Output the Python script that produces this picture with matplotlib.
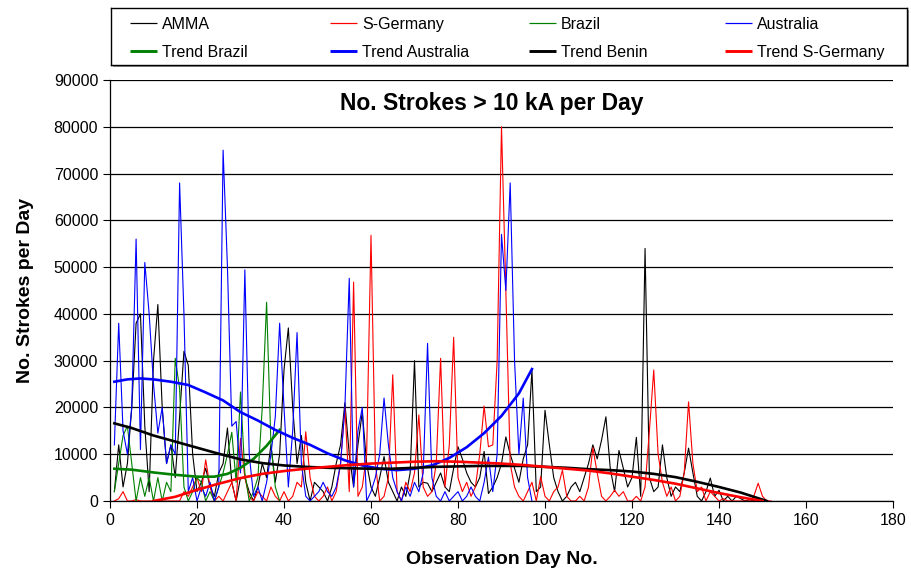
import matplotlib
matplotlib.use("Agg")
import matplotlib.pyplot as plt
from matplotlib.patches import Rectangle
import numpy as np

plt.rcParams["font.family"] = ["Liberation Sans", "DejaVu Sans"]

# daily counts of strokes > 10 kA, in thousands
amma_k = [
    2, 12, 3, 8, 20, 38, 40, 16, 2, 30,
    42, 20, 8, 12, 5, 18, 32, 29, 10, 2,
    4, 7, 3, 1, 6, 8, 15.6, 4, 0, 5,
    5, 2, 0, 3, 8, 5, 12, 4, 10, 28,
    37, 20, 8, 14, 4, 0, 4, 3, 2, 0,
    3, 8, 12, 21, 10, 3, 12, 19, 8, 3,
    1, 5, 9.5, 4, 2, 0, 3, 1, 6, 30,
    3, 4, 3.8, 2, 4, 6, 3, 2, 7, 11.6,
    9, 6, 4, 3, 5, 10.6, 1.6, 3, 5, 8,
    13.7, 10, 7, 4, 9, 12, 28, 2, 3, 19.4,
    12, 5, 2, 0, 1, 3, 4, 2, 5, 8,
    12, 9, 13, 18, 7, 2, 10.8, 7, 3, 5,
    13.6, 1, 54, 5, 2, 3, 12, 5, 1, 3,
    2, 6, 11.3, 6, 1, 0, 2, 4.9, 1, 2.3,
    0, 1, 0, 1, 0.5, 0, 0.3, 0, 0, 0,
    0,
]
germany_k = [
    0, 0.5, 2, 0, 0, 0.3, 0, 0, 0, 0,
    0, 0, 0, 0, 0, 0, 2, 1, 3, 5,
    2, 8.8, 3, 0, 1, 0, 2, 4, 0, 13.4,
    5, 1, 0, 2, 1, 0, 3, 1, 0, 2,
    0, 1, 4, 3, 14.8, 5, 1, 0, 1, 3,
    0, 2, 8, 20, 2, 46.8, 1, 3, 10, 56.8,
    8, 0, 1, 5, 27, 2, 0, 4, 2, 6,
    18.4, 3, 1, 2, 8, 30.5, 3, 12, 35, 5,
    2, 4, 1, 3, 10, 20.3, 11.6, 12, 30, 80,
    45, 8, 3, 1, 0, 2, 4, 0, 5.2, 1,
    0, 2, 3, 6.6, 1, 0, 0, 1, 0, 3,
    11.4, 6, 1, 0, 1, 2.3, 1, 2, 0, 0,
    1, 0, 3, 15, 28, 10, 4, 1, 3, 0,
    1, 6, 21.2, 8, 2, 3, 0, 2, 1, 0,
    0.5, 0, 0, 0, 0, 0, 0, 1, 3.8, 1,
    0, 0,
]
brazil_k = [
    2, 8, 14, 16, 8, 0, 5, 1, 5, 0,
    5, 0, 4, 2, 30.5, 24, 3, 0, 2, 5,
    4, 0, 2, 0, 3, 6, 10, 14.7, 4, 23.3,
    6, 0, 2, 5, 20, 42.5, 12, 3, 0,
]
australia_k = [
    12, 38, 15, 10, 20, 56, 11, 51, 40, 25,
    14.5, 20, 8, 12, 10, 68, 40, 2, 5, 0,
    3, 1, 4, 0, 3, 75, 50, 16, 17, 6,
    49.4, 10, 1, 3, 0, 4, 10, 18, 38, 20,
    3, 15, 36, 8, 1, 0, 1, 2, 4, 2,
    1, 3, 8, 20, 47.6, 3, 15, 20, 0, 2,
    5, 10, 22, 12, 5, 2, 0, 3, 1, 4,
    2, 6, 33.7, 5, 1, 0, 2, 0, 1, 2,
    0, 1, 3, 1, 0, 4, 9.4, 2, 10, 57,
    45, 68, 30, 10, 22, 5, 0,
]

# trend curves, sampled by observation day
trend_brazil_days = [1, 5, 10, 15, 20, 24, 27, 30, 33, 36, 39]
trend_brazil = [6900, 6700, 6100, 5600, 5200, 5200, 5800, 7100, 9000, 11800, 15200]

trend_australia_days = [1, 4, 7, 10, 14, 18, 22, 26, 30, 34, 38, 42, 46, 50,
                        54, 58, 62, 66, 70, 74, 78, 82, 86, 90, 94, 97]
trend_australia = [25500, 26000, 26200, 26000, 25500, 24800, 23200, 21500, 19000,
                   17200, 15200, 13500, 12000, 10200, 8700, 7600, 6900, 6600,
                   6900, 7600, 9200, 11500, 14500, 18200, 23000, 28200]

trend_benin_days = [1, 5, 10, 15, 20, 25, 30, 35, 40, 45, 50, 55, 60, 65, 70, 75,
                    80, 85, 90, 95, 100, 105, 110, 115, 120, 125, 130, 135, 140,
                    145, 150, 151]
trend_benin = [16600, 15600, 14000, 12700, 11400, 10100, 8900, 8100, 7600, 7300,
               7100, 7000, 6900, 6900, 7100, 7300, 7400, 7500, 7500, 7500, 7300,
               7100, 6800, 6600, 6300, 5800, 5100, 4100, 3000, 1800, 300, 0]

trend_germany_days = [10, 15, 20, 25, 30, 35, 40, 45, 50, 55, 60, 65, 70, 75, 80,
                      85, 90, 95, 100, 105, 110, 115, 120, 125, 130, 135, 140,
                      145, 150]
trend_germany = [0, 900, 2400, 3700, 4900, 5800, 6400, 6900, 7300, 7700, 8000,
                 8200, 8400, 8500, 8400, 8200, 8000, 7700, 7300, 6900, 6500,
                 5900, 5200, 4500, 3700, 2700, 1700, 800, 0]


def days_for(values):
    return np.arange(1, len(values) + 1)


W, H = 912, 572
fig = plt.figure(figsize=(W / 100, H / 100), dpi=100)
ax = fig.add_axes([110 / W, 1 - 501 / H, 783 / W, 421 / H])

thin = 0.8
thick = 1.9
series = [
    (days_for(amma_k), np.array(amma_k) * 1000, "black", thin, "AMMA"),
    (days_for(germany_k), np.array(germany_k) * 1000, "#ff0000", thin, "S-Germany"),
    (days_for(brazil_k), np.array(brazil_k) * 1000, "#008000", thin, "Brazil"),
    (days_for(australia_k), np.array(australia_k) * 1000, "#0000ff", thin, "Australia"),
    (trend_brazil_days, trend_brazil, "#008000", thick, "Trend Brazil"),
    (trend_australia_days, trend_australia, "#0000ff", thick, "Trend Australia"),
    (trend_benin_days, trend_benin, "black", thick, "Trend Benin"),
    (trend_germany_days, trend_germany, "#ff0000", thick, "Trend S-Germany"),
]
for x, y, c, lw, name in series:
    ax.plot(x, y, color=c, lw=lw)

ax.set_xlim(0, 180)
ax.set_ylim(0, 90000)
ax.set_xticks(np.arange(0, 181, 20))
ax.set_yticks(np.arange(0, 90001, 10000))
ax.tick_params(axis="both", direction="out", length=5, width=0.8, labelsize=11.5, color="black")
ax.yaxis.grid(True, color="black", lw=0.9)
ax.set_axisbelow(True)
for side in ("top", "right"):
    ax.spines[side].set_visible(False)
for side in ("left", "bottom"):
    ax.spines[side].set_linewidth(0.9)

ax.set_xlabel("Observation Day No.", fontsize=14, fontweight="bold", labelpad=17)
ax.set_ylabel("No. Strokes per Day", fontsize=14, fontweight="bold", labelpad=14)
ax.text(0.488, 0.945, "No. Strokes > 10 kA per Day", transform=ax.transAxes,
        ha="center", va="center", fontsize=16.5, fontweight="bold")

# legend box with fixed-width columns, drawn in pixel units
lx, ly, lw_, lh = 111, 8, 796, 57
fig.patches.append(Rectangle(((lx + 2) / W, 1 - (ly + lh + 2) / H), lw_ / W, lh / H,
                             transform=fig.transFigure, facecolor="0.55",
                             edgecolor="none", zorder=1))
lax = fig.add_axes([lx / W, 1 - (ly + lh) / H, lw_ / W, lh / H], zorder=2)
lax.set_xlim(0, lw_)
lax.set_ylim(lh, 0)
lax.set_xticks([])
lax.set_yticks([])
for sp in lax.spines.values():
    sp.set_linewidth(1.0)
    sp.set_color("black")

col_x = [19, 219, 418, 614]
row_y = [15, 43]
for k, (_, _, c, lw, name) in enumerate(series):
    row, col = divmod(k, 4)
    x0, y0 = col_x[col], row_y[row]
    lax.plot([x0, x0 + 27], [y0, y0], color=c, lw=lw * 1.1, solid_capstyle="butt")
    lax.text(x0 + 32, y0, name, ha="left", va="center_baseline", fontsize=11.5)

fig.savefig("out.png", dpi=100)
